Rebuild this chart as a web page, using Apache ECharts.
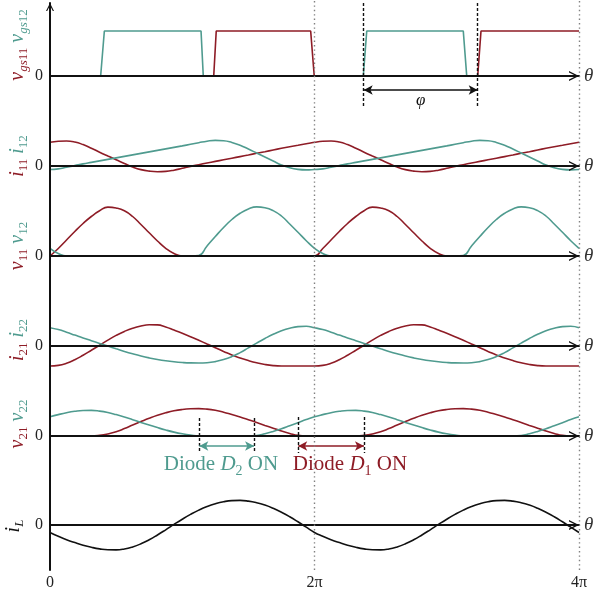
<!DOCTYPE html>
<html><head><meta charset="utf-8">
<script src="https://cdn.jsdelivr.net/npm/echarts@6/dist/echarts.min.js"></script>
<style>html,body{margin:0;padding:0;background:#fff}#c{width:594px;height:592px}</style>
</head><body><div id="c"></div><script>
// ---------- data (theta in units of pi, values in arbitrary units) ----------
const theta = [0,0.0625,0.125,0.1875,0.25,0.3125,0.375,0.4375,0.5,0.5625,0.625,0.6875,0.75,0.8125,0.875,0.9375,
  1,1.0625,1.125,1.1875,1.25,1.3125,1.375,1.4375,1.5,1.5625,1.625,1.6875,1.75,1.8125,1.875,1.9375,
  2,2.0625,2.125,2.1875,2.25,2.3125,2.375,2.4375,2.5,2.5625,2.625,2.6875,2.75,2.8125,2.875,2.9375,
  3,3.0625,3.125,3.1875,3.25,3.3125,3.375,3.4375,3.5,3.5625,3.625,3.6875,3.75,3.8125,3.875,3.9375,4];

const gateTealTheta = [0,0.383,0.411,1.142,1.159,2.369,2.395,3.125,3.151,4];
const gateTealVal   = [0,0,45,45,0,0,45,45,0,0];
const gateRedTheta  = [0,1.238,1.257,1.971,1.998,3.234,3.259,4];
const gateRedVal    = [0,0,45,45,0,0,45,45];

const i11 = [23.7,24.7,25.0,24.0,21.4,17.8,13.8,10.0,6.3,2.5,-1.0,-3.6,-5.1,-5.7,-5.4,-4.2,
  -2.3,-0.4,1.3,3.0,4.6,6.2,7.8,9.4,11.0,12.7,14.3,16.0,17.7,19.3,20.8,22.3,
  23.7,24.7,25.0,24.0,21.4,17.8,13.8,10.0,6.3,2.5,-1.0,-3.6,-5.1,-5.7,-5.4,-4.2,
  -2.3,-0.4,1.3,3.0,4.6,6.2,7.8,9.4,11.0,12.7,14.3,16.0,17.7,19.3,20.8,22.3,23.7];
const i12 = [-3.5,-2.9,-1.3,0.4,2.1,3.6,5.1,6.6,8.1,9.6,11.1,12.6,14.1,15.6,17.1,18.6,
  20.1,21.7,23.3,24.8,25.6,25.3,23.6,20.8,17.0,13.0,9.0,5.0,1.0,-1.8,-3.4,-3.9,
  -3.5,-2.9,-1.3,0.4,2.1,3.6,5.1,6.6,8.1,9.6,11.1,12.6,14.1,15.6,17.1,18.6,
  20.1,21.7,23.3,24.8,25.6,25.3,23.6,20.8,17.0,13.0,9.0,5.0,1.0,-1.8,-3.4,-3.9,-3.5];
const v11 = [0,7.5,16,24.5,32.5,39.5,45.2,48.9,48.0,45.2,39.5,31.5,23.2,15,7.7,2.5,
  0,0,0,0,0,0,0,0,0,0,0,0,0,0,0,0,
  0,7.5,16,24.5,32.5,39.5,45.2,48.9,48.0,45.2,39.5,31.5,23.2,15,7.7,2.5,
  0,0,0,0,0,0,0,0,0,0,0,0,0,0,0,0,0];
const v12 = [7.7,2.5,0,0,0,0,0,0,0,0,0,0,0,0,0,0,
  0,0,0.5,10,19.5,28.5,36.5,42.7,47,49.1,48.3,45.4,40,32,23.7,15.3,
  7.7,2.5,0,0,0,0,0,0,0,0,0,0,0,0,0,0,
  0,0,0.5,10,19.5,28.5,36.5,42.7,47,49.1,48.3,45.4,40,32,23.7,15.3,7.7];
const i21 = [-20,-19.4,-17.3,-13.8,-9.3,-4.3,0.8,5.9,10.6,14.6,17.8,20.0,21.2,21.1,19.0,15.9,
  12.7,9.3,5.7,2.0,-1.7,-5.4,-9.0,-12.0,-14.6,-16.8,-18.5,-19.6,-20,-20,-20,-20,
  -20,-19.4,-17.3,-13.8,-9.3,-4.3,0.8,5.9,10.6,14.6,17.8,20.0,21.2,21.1,19.0,15.9,
  12.7,9.3,5.7,2.0,-1.7,-5.4,-9.0,-12.0,-14.6,-16.8,-18.5,-19.6,-20,-20,-20,-20,-20];
const i22 = [18.3,16.4,13.8,10.9,8.0,5.3,2.6,-0.1,-2.8,-5.4,-7.8,-10.0,-11.9,-13.5,-14.8,-15.8,
  -16.5,-16.9,-17.0,-16.7,-15.6,-13.6,-10.6,-6.6,-1.9,2.9,7.5,11.7,15.2,17.8,19.4,19.8,
  18.3,16.4,13.8,10.9,8.0,5.3,2.6,-0.1,-2.8,-5.4,-7.8,-10.0,-11.9,-13.5,-14.8,-15.8,
  -16.5,-16.9,-17.0,-16.7,-15.6,-13.6,-10.6,-6.6,-1.9,2.9,7.5,11.7,15.2,17.8,19.4,19.8,18.3];
const v21 = [0,0,0,0,0,0,0.6,2.0,4.2,7.4,11.0,14.4,17.7,20.7,23.2,25.2,
  26.5,27.2,27.4,26.9,25.7,23.8,21.4,19.0,16.3,13.5,10.6,7.8,5.0,2.6,0.6,0,
  0,0,0,0,0,0,0.6,2.0,4.2,7.4,11.0,14.4,17.7,20.7,23.2,25.2,
  26.5,27.2,27.4,26.9,25.7,23.8,21.4,19.0,16.3,13.5,10.6,7.8,5.0,2.6,0.6,0,0];
const v22 = [19.2,21.4,23.3,24.7,25.5,25.6,24.9,23.5,21.4,19.0,16.3,13.6,11.0,8.4,6.0,3.9,
  2.2,0.9,0,0,0,0,0,0,0,0.5,2.3,4.6,7.3,10.3,13.3,16.4,
  19.2,21.4,23.3,24.7,25.5,25.6,24.9,23.5,21.4,19.0,16.3,13.6,11.0,8.4,6.0,3.9,
  2.2,0.9,0,0,0,0,0,0,0,0.5,2.3,4.6,7.3,10.3,13.3,16.4,19.2];
const iL = [-7.5,-11.3,-14.7,-17.6,-20.2,-22.3,-23.9,-24.8,-24.9,-24.0,-21.9,-18.8,-14.8,-10.0,-4.8,0.6,
  5.8,10.6,14.9,18.5,21.3,23.3,24.4,24.6,23.9,22.3,19.9,16.7,12.8,8.3,3.2,-2.2,
  -7.5,-11.3,-14.7,-17.6,-20.2,-22.3,-23.9,-24.8,-24.9,-24.0,-21.9,-18.8,-14.8,-10.0,-4.8,0.6,
  5.8,10.6,14.9,18.5,21.3,23.3,24.4,24.6,23.9,22.3,19.9,16.7,12.8,8.3,3.2,-2.2,-7.5];

const phiStart = 2.372, phiEnd = 3.234;
const d2Start = 1.129, d2End = 1.543;
const d1Start = 1.877, d1End = 2.374;
const xTicks = [0, 2, 4];
const xTickLabels = ['0', '2π', '4π'];

// ---------- style / layout ----------
const RED = '#8e1c26', TEAL = '#4f9b8f', INK = '#111111', GREY = '#808080';
const SERIF = '"Liberation Serif","Times New Roman",serif';
const CHEV = 'path://M0,100 L50,0 L100,100 L85,100 L50,30 L15,100 Z';
const bands = [[3,121,76],[121,211,166],[211,301,256],[301,391,346],[391,481,436],[481,570,525]];

const grids = [], xAxes = [], yAxes = [];
bands.forEach((b, i) => {
  grids.push({left: 50, right: 15, top: b[0], height: b[1] - b[0], containLabel: false, outerBoundsMode: 'none'});
  xAxes.push({
    type: 'value', gridIndex: i, min: 0, max: 4, z: 3,
    axisLine: {show: true, onZero: true, symbol: ['none', CHEV], symbolSize: [10, 10], symbolOffset: [0, -5],
      lineStyle: {color: INK, width: 2}},
    axisTick: {show: false}, axisLabel: {show: false}, splitLine: {show: false},
    name: 'θ', nameLocation: 'end', nameGap: 5,
    nameTextStyle: {fontFamily: SERIF, fontStyle: 'italic', fontSize: 19, color: '#333'}
  });
  yAxes.push({
    type: 'value', gridIndex: i, min: -(b[1] - b[2]), max: b[2] - b[0], z: 3,
    axisLine: {show: true, onZero: false,
      symbol: i === 0 ? ['none', CHEV] : 'none', symbolSize: [8, 8], symbolOffset: [0, -4],
      lineStyle: {color: INK, width: 2}},
    axisTick: {show: false}, splitLine: {show: false},
    axisLabel: {customValues: [0], formatter: () => '0', fontFamily: SERIF, fontSize: 16, color: '#222', margin: 7}
  });
});
// overlay grid for 0 / 2π / 4π and dotted guides
grids.push({left: 50, right: 15, top: 0, height: 570, containLabel: false, outerBoundsMode: 'none'});
xAxes.push({type: 'value', gridIndex: 6, min: 0, max: 4, interval: 2, position: 'bottom',
  axisLine: {show: false}, axisTick: {show: false}, splitLine: {show: false},
  axisLabel: {fontFamily: SERIF, fontSize: 16, color: '#222', margin: 5,
    formatter: v => xTickLabels[xTicks.indexOf(v)]}});
yAxes.push({type: 'value', gridIndex: 6, min: 0, max: 1, show: false});

function line(gi, th, vals, color, smooth, extra) {
  return Object.assign({
    type: 'line', xAxisIndex: gi, yAxisIndex: gi, silent: true, clip: false,
    data: th.map((t, k) => [t, vals[k]]),
    symbol: 'none', showSymbol: false, smooth: smooth,
    lineStyle: {color: color, width: 1.6}, itemStyle: {color: color}, z: 2
  }, extra || {});
}
const dashed = {color: INK, width: 1.4, type: [3, 2]};
function vline(x, y1, y2) {
  return [{coord: [x, y1], symbol: 'none', lineStyle: dashed}, {coord: [x, y2], symbol: 'none'}];
}
function arrow(x1, x2, y, color, label) {
  const a = {coord: [x1, y], symbol: 'arrow', symbolSize: [7, 9], lineStyle: {color: color, type: 'solid', width: 1.5}};
  if (label) a.label = label;
  return [a, {coord: [x2, y], symbol: 'arrow', symbolSize: [7, 9]}];
}

const S = 0.5;
const series = [
  line(0, gateTealTheta, gateTealVal, TEAL, false, {
    markLine: {silent: true, symbol: 'none', animation: false, label: {show: false}, lineStyle: dashed,
      data: [vline(phiStart, 73, -32), vline(phiEnd, 73, -32),
        arrow(phiStart, phiEnd, -14, INK, {show: true, formatter: 'φ', position: 'insideMiddleBottom', distance: 2,
          fontFamily: SERIF, fontStyle: 'italic', fontSize: 17, color: INK})]}
  }),
  line(0, gateRedTheta, gateRedVal, RED, false),
  line(1, theta, i11, RED, S),
  line(1, theta, i12, TEAL, S),
  line(2, theta, v11, RED, S),
  line(2, theta, v12, TEAL, S),
  line(3, theta, i21, RED, S),
  line(3, theta, i22, TEAL, S),
  line(4, theta, v21, RED, S),
  line(4, theta, v22, TEAL, S, {
    markLine: {silent: true, symbol: 'none', animation: false, label: {show: false}, lineStyle: dashed,
      data: [vline(d2Start, 18, -17), vline(d2End, 18, -17), arrow(d2Start, d2End, -10, TEAL),
             vline(d1Start, 19, -17), vline(d1End, 19, -17), arrow(d1Start, d1End, -10, RED)]}
  }),
  line(5, theta, iL, INK, S),
  {type: 'line', xAxisIndex: 6, yAxisIndex: 6, data: [[0, 0]], symbol: 'none', silent: true,
    lineStyle: {opacity: 0}, z: 1,
    markLine: {silent: true, symbol: 'none', animation: false, label: {show: false},
      lineStyle: {color: GREY, width: 1.4, type: [1.4, 3]},
      data: [{xAxis: 2}, {xAxis: 4}]}}
];

function tok(color, size, italic, sub) {
  const s = {fill: color, fontFamily: SERIF, fontSize: size, fontStyle: italic ? 'italic' : 'normal', verticalAlign: 'top'};
  if (sub) s.padding = [9, 0, 0, 0];
  return s;
}
const rich = {
  rm: tok(RED, 20, true), rsi: tok(RED, 13, true, true), rs: tok(RED, 13, false, true),
  tm: tok(TEAL, 20, true), tsi: tok(TEAL, 13, true, true), ts: tok(TEAL, 13, false, true),
  km: tok(INK, 20, true), ksi: tok(INK, 13, true, true),
  sp: tok(INK, 20, false)
};
function vlabel(text, x, y) {
  return {type: 'text', x: x, y: y, rotation: Math.PI / 2, silent: true,
    style: {text: text, rich: rich, align: 'center', verticalAlign: 'middle', fontFamily: SERIF, fontSize: 20}};
}
function drich(color) {
  return {
    t: {fill: color, fontFamily: SERIF, fontSize: 21, verticalAlign: 'top'},
    ti: {fill: color, fontFamily: SERIF, fontSize: 21, fontStyle: 'italic', verticalAlign: 'top'},
    s: {fill: color, fontFamily: SERIF, fontSize: 14, verticalAlign: 'top', padding: [10, 0, 0, 0]}
  };
}
const graphic = [
  vlabel('{rm|v}{rsi|gs}{rs|11}{sp| }{tm|v}{tsi|gs}{ts|12}', 19, 45),
  vlabel('{rm|i}{rs|11}{sp| }{tm|i}{ts|12}', 19, 156),
  vlabel('{rm|v}{rs|11}{sp| }{tm|v}{ts|12}', 19, 246),
  vlabel('{rm|i}{rs|21}{sp| }{tm|i}{ts|22}', 19, 340),
  vlabel('{rm|v}{rs|21}{sp| }{tm|v}{ts|22}', 19, 424),
  vlabel('{km|i}{ksi|L}', 15, 526),
  {type: 'text', x: 221, y: 466, silent: true,
    style: {text: '{t|Diode }{ti|D}{s|2}{t| ON}', rich: drich(TEAL), align: 'center', verticalAlign: 'middle', fontFamily: SERIF, fontSize: 21}},
  {type: 'text', x: 350, y: 466, silent: true,
    style: {text: '{t|Diode }{ti|D}{s|1}{t| ON}', rich: drich(RED), align: 'center', verticalAlign: 'middle', fontFamily: SERIF, fontSize: 21}}
];

const chart = echarts.init(document.getElementById('c'), null, {renderer: 'canvas'});
chart.setOption({
  animation: false, backgroundColor: '#ffffff',
  grid: grids, xAxis: xAxes, yAxis: yAxes, series: series, graphic: graphic
});
</script></body></html>
